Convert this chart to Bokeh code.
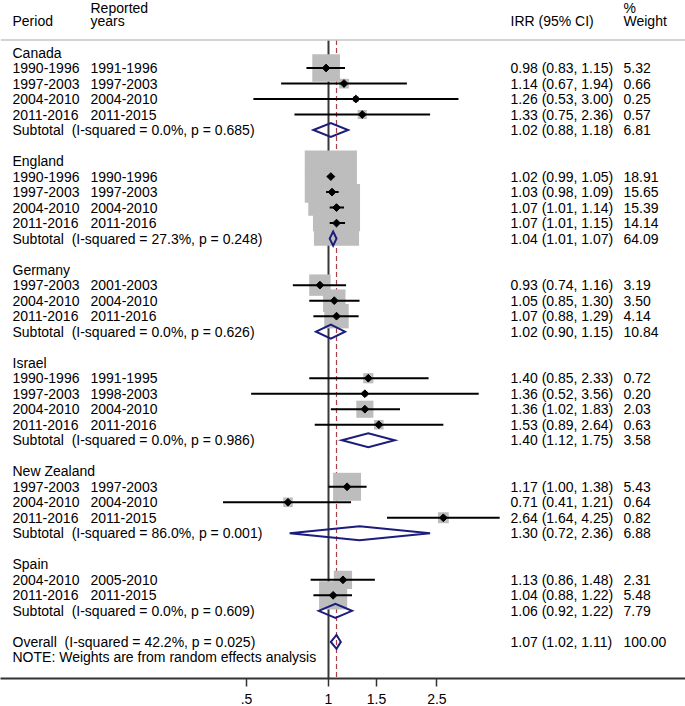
import math
from bokeh.plotting import figure
from bokeh.models import Range1d, FixedTicker, CustomJSTickFormatter, ColumnDataSource, Span
from bokeh.core.properties import value
from bokeh.embed import file_html
from bokeh.resources import INLINE

# ---------------- data ----------------
countries = ["Canada", "England", "Germany", "Israel", "New Zealand", "Spain"]

study_country = ["Canada"] * 4 + ["England"] * 4 + ["Germany"] * 3 + ["Israel"] * 4 + ["New Zealand"] * 3 + ["Spain"] * 2
study_period = ["1990-1996", "1997-2003", "2004-2010", "2011-2016",
                "1990-1996", "1997-2003", "2004-2010", "2011-2016",
                "1997-2003", "2004-2010", "2011-2016",
                "1990-1996", "1997-2003", "2004-2010", "2011-2016",
                "1997-2003", "2004-2010", "2011-2016",
                "2004-2010", "2011-2016"]
study_reported = ["1991-1996", "1997-2003", "2004-2010", "2011-2015",
                  "1990-1996", "1997-2003", "2004-2010", "2011-2016",
                  "2001-2003", "2004-2010", "2011-2016",
                  "1991-1995", "1998-2003", "2004-2010", "2011-2016",
                  "1997-2003", "2004-2010", "2011-2015",
                  "2005-2010", "2011-2015"]
study_irr = [0.98, 1.14, 1.26, 1.33, 1.02, 1.03, 1.07, 1.07, 0.93, 1.05, 1.07,
             1.40, 1.36, 1.36, 1.53, 1.17, 0.71, 2.64, 1.13, 1.04]
study_lo = [0.83, 0.67, 0.53, 0.75, 0.99, 0.98, 1.01, 1.01, 0.74, 0.85, 0.88,
            0.85, 0.52, 1.02, 0.89, 1.00, 0.41, 1.64, 0.86, 0.88]
study_hi = [1.15, 1.94, 3.00, 2.36, 1.05, 1.09, 1.14, 1.15, 1.16, 1.30, 1.29,
            2.33, 3.56, 1.83, 2.64, 1.38, 1.21, 4.25, 1.48, 1.22]
study_weight = [5.32, 0.66, 0.25, 0.57, 18.91, 15.65, 15.39, 14.14, 3.19, 3.50, 4.14,
                0.72, 0.20, 2.03, 0.63, 5.43, 0.64, 0.82, 2.31, 5.48]

sub_i2 = ["0.0%", "27.3%", "0.0%", "0.0%", "86.0%", "0.0%"]
sub_p = ["0.685", "0.248", "0.626", "0.986", "0.001", "0.609"]
sub_irr = [1.02, 1.04, 1.02, 1.40, 1.30, 1.06]
sub_lo = [0.88, 1.01, 0.90, 1.12, 0.72, 0.92]
sub_hi = [1.18, 1.07, 1.15, 1.75, 2.36, 1.22]
sub_weight = [6.81, 64.09, 10.84, 3.58, 6.88, 7.79]

overall_i2 = "42.2%"
overall_p = "0.025"
overall_irr = 1.07
overall_lo = 1.02
overall_hi = 1.11
overall_weight = 100.00

axis_ticks = [0.5, 1, 1.5, 2.5]

# ---------------- layout helpers ----------------
PX_PER_LN = 118.3
X_ONE = 328.0
W, H = 685, 706
AXIS_PANEL = 28
ROW0_Y = 52.0      # pixel y of row 1
ROW_STEP = 15.51


def dx(page_px):
    return math.exp((page_px - X_ONE) / PX_PER_LN)


x_lo = dx(0)
x_hi = dx(W)
y_top = 1 - ROW0_Y / ROW_STEP
y_bottom = 1 + (H - AXIS_PANEL - ROW0_Y) / ROW_STEP

FONT = value("Liberation Sans")
FSIZE = value("14px")

# row assignment
rows_study = []
rows_header = []
rows_sub = []
r = 1
for c in countries:
    rows_header.append(r)
    n = study_country.count(c)
    for k in range(n):
        rows_study.append(r + 1 + k)
    rows_sub.append(r + n + 1)
    r += n + 3
row_overall = r
row_note = r + 1
sep_row = 0.2
head_row1 = -1.9
head_row2 = -1.0


def fmt_ci(e, a, b):
    return "%.2f (%.2f, %.2f)" % (e, a, b)


p = figure(width=W, height=H, x_axis_type="log",
           x_range=Range1d(x_lo, x_hi), y_range=Range1d(y_bottom, y_top),
           output_backend="svg", toolbar_location=None,
           y_axis_location=None,
           min_border_left=0, min_border_right=0, min_border_top=0,
           min_border_bottom=AXIS_PANEL)
p.grid.visible = False
p.outline_line_color = None
p.background_fill_color = "white"
p.border_fill_color = "white"

# header separator
p.add_layout(Span(location=sep_row, dimension="width", line_color="#c4c4c4", line_width=1.5))

# reference lines
p.segment(x0=[1], y0=[sep_row], x1=[1], y1=[y_bottom], line_color="#383838", line_width=2)
p.segment(x0=[overall_irr], y0=[sep_row], x1=[overall_irr], y1=[y_bottom],
          line_color="#a84048", line_width=1.2, line_dash="5 3")

# weight boxes
src = ColumnDataSource(dict(
    x=study_irr, y=rows_study, lo=study_lo, hi=study_hi,
    size=[12.0 * math.sqrt(w) for w in study_weight]))
p.scatter(x="x", y="y", size="size", marker="square", source=src,
          fill_color="#bdbdbd", line_color=None)
# CI lines
p.segment(x0="lo", y0="y", x1="hi", y1="y", source=src, line_color="black", line_width=2)
# point estimates
p.scatter(x="x", y="y", size=5.5, marker="square", angle=math.pi / 4, source=src,
          fill_color="black", line_color="black", line_width=1)

# subtotal + overall diamonds
dx_list, dy_list = [], []
for e, a, b, rr in zip(sub_irr + [overall_irr], sub_lo + [overall_lo],
                       sub_hi + [overall_hi], rows_sub + [row_overall]):
    h = 0.45
    dx_list.append([a, e, b, e])
    dy_list.append([rr, rr - h, rr, rr + h])
p.patches(xs=dx_list, ys=dy_list, fill_alpha=0, line_color="#1c1c7c", line_width=2,
          line_join="miter")

# texts
tx, ty, tt = [], [], []


def add(px, row, text):
    tx.append(dx(px))
    ty.append(row)
    tt.append(text)


COL1, COL2, COL_IRR, COL_W = 12, 90, 510, 623
add(COL1, head_row2, "Period")
add(COL2, head_row1, "Reported")
add(COL2, head_row2, "years")
add(COL_IRR, head_row2, "IRR (95% CI)")
add(COL_W, head_row1, "%")
add(COL_W, head_row2, "Weight")

for c, rr in zip(countries, rows_header):
    add(COL1, rr, c)
for i, rr in enumerate(rows_study):
    add(COL1, rr, study_period[i])
    add(COL2, rr, study_reported[i])
    add(COL_IRR, rr, fmt_ci(study_irr[i], study_lo[i], study_hi[i]))
    add(COL_W, rr, "%.2f" % study_weight[i])
for i, rr in enumerate(rows_sub):
    add(COL1, rr, "Subtotal \u00a0(I-squared = %s, p = %s)" % (sub_i2[i], sub_p[i]))
    add(COL_IRR, rr, fmt_ci(sub_irr[i], sub_lo[i], sub_hi[i]))
    add(COL_W, rr, "%.2f" % sub_weight[i])
add(COL1, row_overall, "Overall \u00a0(I-squared = %s, p = %s)" % (overall_i2, overall_p))
add(COL_IRR, row_overall, fmt_ci(overall_irr, overall_lo, overall_hi))
add(COL_W, row_overall, "%.2f" % overall_weight)
add(COL1, row_note, "NOTE: Weights are from random effects analysis")

p.text(x=tx, y=ty, text=tt, text_font=FONT, text_font_size=FSIZE,
       text_baseline="middle", text_align="left", text_color="black")

# axis
ax = p.xaxis[0]
ax.ticker = FixedTicker(ticks=axis_ticks, minor_ticks=[])
ax.formatter = CustomJSTickFormatter(code="return tick.toString().replace(/^0\\./, '.');")
ax.axis_line_color = "#333333"
ax.axis_line_width = 2
ax.major_tick_line_color = "#333333"
ax.major_tick_line_width = 1.5
ax.major_tick_out = 8
ax.major_tick_in = 0
ax.minor_tick_out = 0
ax.minor_tick_in = 0
ax.major_label_standoff = 7
ax.major_label_text_font = "Liberation Sans"
ax.major_label_text_font_size = "14px"
ax.major_label_text_color = "black"

open("out.html", "w").write(file_html(p, INLINE))
